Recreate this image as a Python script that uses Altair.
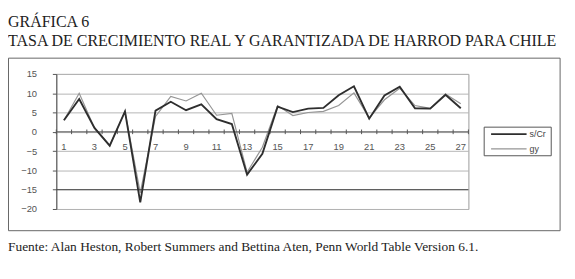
import altair as alt
import pandas as pd

periods = list(range(1, 28))
s_cr = [3.0, 8.5, 1.0, -3.6, 5.3, -18.3, 5.5, 7.8, 5.6, 7.1, 3.3, 2.0, -11.1, -5.7, 6.5,
        5.1, 6.0, 6.2, 9.5, 11.8, 3.4, 9.4, 11.7, 6.1, 6.0, 9.6, 6.1]
gy = [3.0, 10.0, 1.0, -3.6, 5.3, -15.8, 4.0, 9.2, 8.0, 10.0, 4.3, 4.8, -10.5, -4.0, 6.8,
      4.2, 5.0, 5.3, 6.8, 10.1, 3.6, 8.3, 11.3, 6.8, 6.1, 9.8, 7.3]
x_labels = [str(p) for p in periods if p % 2 == 1]
y_ticks = [-20, -15, -10, -5, 0, 5, 10, 15]

title1 = "GRÁFICA 6"
title2 = "TASA DE CRECIMIENTO REAL Y GARANTIZADA DE HARROD PARA CHILE"
caption = "Fuente: Alan Heston, Robert Summers and Bettina Aten, Penn World Table Version 6.1."

df = pd.DataFrame({
    "periodo": periods * 2,
    "valor": s_cr + gy,
    "serie": ["s/Cr"] * len(s_cr) + ["gy"] * len(gy),
})

W, H = 418, 137
xs = alt.Scale(domain=[0.5, 27.5], nice=False, zero=False)
ys = alt.Scale(domain=[-20, 15], nice=False)

base = alt.Chart(df)

y_enc = alt.Y("valor:Q", scale=ys,
              axis=alt.Axis(values=y_ticks, title=None, labelFont="Liberation Sans",
                            labelFontSize=9.5, labelColor="#555", labelPadding=16,
                            tickSize=4, tickColor="#555", domainColor="#555",
                            gridColor="#b5b5b5", grid=True, gridWidth=1))
x_enc = alt.X("periodo:Q", scale=xs, axis=None)

line_gy = base.transform_filter(alt.datum.serie == "gy").mark_line(
    color="#959595", strokeWidth=1.2).encode(x=x_enc, y=y_enc)
line_s = base.transform_filter(alt.datum.serie == "s/Cr").mark_line(
    color="#2e2e2e", strokeWidth=1.9).encode(
    x=x_enc, y=alt.Y("valor:Q", scale=ys, axis=None))

hl_df = pd.DataFrame({"y": [0, -15], "c": ["#555", "#444"]})
h_lines = alt.Chart(hl_df).mark_rule(strokeWidth=1).encode(
    y=alt.Y("y:Q", scale=ys, axis=None), color=alt.Color("c:N", scale=None))

bounds = pd.DataFrame({"b": [p - 0.5 for p in periods] + [27.5], "y1": 0.6, "y2": -0.6})
ticks = alt.Chart(bounds).mark_rule(color="#555", strokeWidth=1).encode(
    x=alt.X("b:Q", scale=xs, axis=None), y=alt.Y("y1:Q", scale=ys, axis=None), y2="y2:Q")

lab_df = pd.DataFrame({"p": [int(l) for l in x_labels], "t": x_labels, "y": 0})
x_text = alt.Chart(lab_df).mark_text(font="Liberation Sans", fontSize=9.5, color="#555",
                                     dy=15, baseline="middle").encode(
    x=alt.X("p:Q", scale=xs, axis=None), y=alt.Y("y:Q", scale=ys, axis=None), text="t:N")

# page furniture (positions in pixels relative to plot area)
frame_df = pd.DataFrame({"x1": [-48.5, 434], "x2": [511, 502], "y1": [-16, 54], "y2": [159, 83],
                         "f": ["transparent", "white"], "s": ["#666", "#555"]})
boxes = alt.Chart(frame_df).mark_rect(strokeWidth=1).encode(
    x=alt.X("x1:Q", scale=None, axis=None), x2="x2:Q",
    y=alt.Y("y1:Q", scale=None, axis=None), y2="y2:Q",
    fill=alt.Fill("f:N", scale=None), stroke=alt.Stroke("s:N", scale=None))

txt_df = pd.DataFrame({
    "t": [title1, title2, caption],
    "x": [-49, -49, -49],
    "y": [-48, -28, 180],
    "fs": [16.2, 16.2, 13.6],
})
texts = alt.Chart(txt_df).mark_text(font="Liberation Serif", align="left",
                                    baseline="alphabetic", color="#222").encode(
    x=alt.X("x:Q", scale=None, axis=None), y=alt.Y("y:Q", scale=None, axis=None),
    text="t:N", size=alt.Size("fs:Q", scale=None, legend=None))

leg_df = pd.DataFrame({"serie": ["s/Cr", "gy"], "x1": [441, 441], "x2": [477, 477],
                       "yy": [61, 76], "c": ["#2e2e2e", "#959595"], "w": [1.9, 1.2],
                       "tx": [480, 480]})
leg_lines = alt.Chart(leg_df).mark_rule().encode(
    x=alt.X("x1:Q", scale=None, axis=None), x2="x2:Q",
    y=alt.Y("yy:Q", scale=None, axis=None),
    color=alt.Color("c:N", scale=None),
    strokeWidth=alt.StrokeWidth("w:Q", scale=None, legend=None))
leg_text = alt.Chart(leg_df).mark_text(font="Liberation Sans", fontSize=9, align="left",
                                       baseline="middle", color="#444").encode(
    x=alt.X("tx:Q", scale=None, axis=None), y=alt.Y("yy:Q", scale=None, axis=None),
    text="serie:N")

chart = alt.layer(
    boxes.transform_filter("datum.f == 'transparent'"),
    line_gy, h_lines, ticks, x_text, line_s, texts,
    boxes.transform_filter("datum.f == 'white'"), leg_lines, leg_text
).resolve_scale(x="independent", y="independent").properties(
    width=W, height=H,
    autosize=alt.AutoSizeParams(type="none"),
    padding={"left": 49, "top": 65, "right": 100, "bottom": 60},
).configure_view(stroke="#999", strokeWidth=1)

chart.save("out.html", embed_options={"renderer": "svg", "actions": False})
